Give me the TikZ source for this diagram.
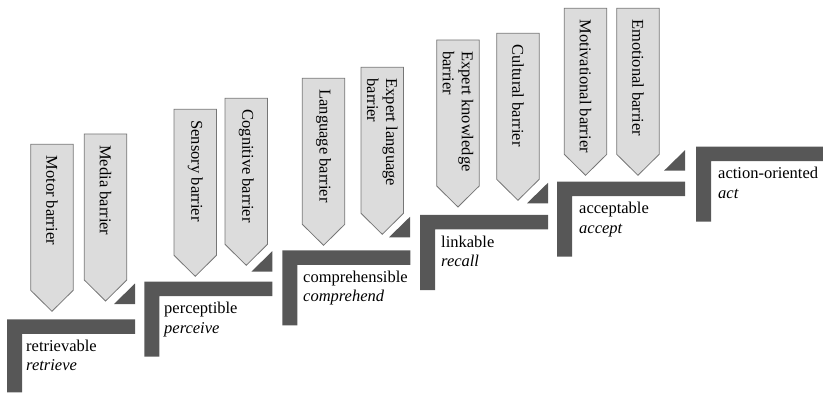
\documentclass[tikz,border=0pt]{standalone}
\usepackage{fontspec}
\setmainfont{Liberation Serif}
\definecolor{stepgray}{RGB}{87,87,87}
\definecolor{boxfill}{RGB}{220,220,220}
\definecolor{boxline}{RGB}{118,118,118}

\begin{document}
\begin{tikzpicture}[x=1pt, y=-1pt, stair/.style={fill=stepgray}, chevron/.style={draw=boxline, fill=boxfill, line width=0.8pt}, btext/.style={rotate=-90, anchor=west, inner sep=0pt, align=left, font=\fontsize{16.5}{19}\selectfont}, ltext/.style={anchor=north west, inner sep=0pt, align=left, font=\fontsize{16.5}{19.5}\selectfont}]
\useasboundingbox (0,0) rectangle (823,393);
\fill[stair] (7,319.3) -- ++(128,0) -- ++(0,14.5) -- ++(-113,0) -- ++(0,58.5) -- ++(-15,0) -- cycle;
\fill[stair] (144.3,281.7) -- ++(128,0) -- ++(0,14.5) -- ++(-113,0) -- ++(0,60.5) -- ++(-15,0) -- cycle;
\fill[stair] (282.3,250.3) -- ++(128,0) -- ++(0,14.5) -- ++(-113,0) -- ++(0,60.5) -- ++(-15,0) -- cycle;
\fill[stair] (420,215) -- ++(128,0) -- ++(0,14.5) -- ++(-113,0) -- ++(0,60.5) -- ++(-15,0) -- cycle;
\fill[stair] (557,181.7) -- ++(128,0) -- ++(0,14.5) -- ++(-113,0) -- ++(0,60.5) -- ++(-15,0) -- cycle;
\fill[stair] (696,146.7) -- ++(127,0) -- ++(0,14.5) -- ++(-112,0) -- ++(0,60.5) -- ++(-15,0) -- cycle;
\fill[stair] (135,304) -- ++(0,-20.5) -- ++(-21,20.5) -- cycle;
\fill[stair] (272.3,271.7) -- ++(0,-20.5) -- ++(-21,20.5) -- cycle;
\fill[stair] (410,237.3) -- ++(0,-20.5) -- ++(-21,20.5) -- cycle;
\fill[stair] (548,203.3) -- ++(0,-20.5) -- ++(-21,20.5) -- cycle;
\fill[stair] (685,170.7) -- ++(0,-20.5) -- ++(-21,20.5) -- cycle;
\draw[chevron] (30.7,144.3) -- ++(42.5,0) -- ++(0,146) -- ++(-21.25,21) -- ++(-21.25,-21) -- cycle;
\draw[chevron] (84.3,134) -- ++(42.5,0) -- ++(0,146) -- ++(-21.25,21) -- ++(-21.25,-21) -- cycle;
\draw[chevron] (174,109.3) -- ++(42.5,0) -- ++(0,146) -- ++(-21.25,21) -- ++(-21.25,-21) -- cycle;
\draw[chevron] (225,98.3) -- ++(42.5,0) -- ++(0,146) -- ++(-21.25,21) -- ++(-21.25,-21) -- cycle;
\draw[chevron] (302.3,78.3) -- ++(42.5,0) -- ++(0,146) -- ++(-21.25,21) -- ++(-21.25,-21) -- cycle;
\draw[chevron] (361,67.3) -- ++(42.5,0) -- ++(0,146) -- ++(-21.25,21) -- ++(-21.25,-21) -- cycle;
\draw[chevron] (436.7,40) -- ++(42.5,0) -- ++(0,146) -- ++(-21.25,21) -- ++(-21.25,-21) -- cycle;
\draw[chevron] (496.7,33.3) -- ++(42.5,0) -- ++(0,146) -- ++(-21.25,21) -- ++(-21.25,-21) -- cycle;
\draw[chevron] (564.3,8.3) -- ++(42.5,0) -- ++(0,146) -- ++(-21.25,21) -- ++(-21.25,-21) -- cycle;
\draw[chevron] (616.7,8.3) -- ++(42.5,0) -- ++(0,146) -- ++(-21.25,21) -- ++(-21.25,-21) -- cycle;
\node[btext] (motor) at (51.95,155.3) {Motor barrier};
\node[btext] (media) at (105.55,145) {Media barrier};
\node[btext] (sensory) at (195.25,120.3) {Sensory barrier};
\node[btext] (cognitive) at (246.25,109.3) {Cognitive barrier};
\node[btext] (language) at (323.55,89.3) {Language barrier};
\node[btext] (explanguage) at (382.25,78.3) {Expert language\\barrier};
\node[btext] (expknowledge) at (457.95,51) {Expert knowledge\\barrier};
\node[btext] (cultural) at (517.95,44.3) {Cultural barrier};
\node[btext] (motivational) at (585.55,19.3) {Motivational barrier};
\node[btext] (emotional) at (637.95,19.3) {Emotional barrier};
\node[ltext] (retrievable) at (26,339.8) {retrievable\\\textit{retrieve}};
\node[ltext] (perceptible) at (164,302.2) {perceptible\\\textit{perceive}};
\node[ltext] (comprehensible) at (303,270.8) {comprehensible\\\textit{comprehend}};
\node[ltext] (linkable) at (441,235.5) {linkable\\\textit{recall}};
\node[ltext] (acceptable) at (579,202.2) {acceptable\\\textit{accept}};
\node[ltext] (actionoriented) at (718,167.2) {action-oriented\\\textit{act}};
\end{tikzpicture}
\end{document}
